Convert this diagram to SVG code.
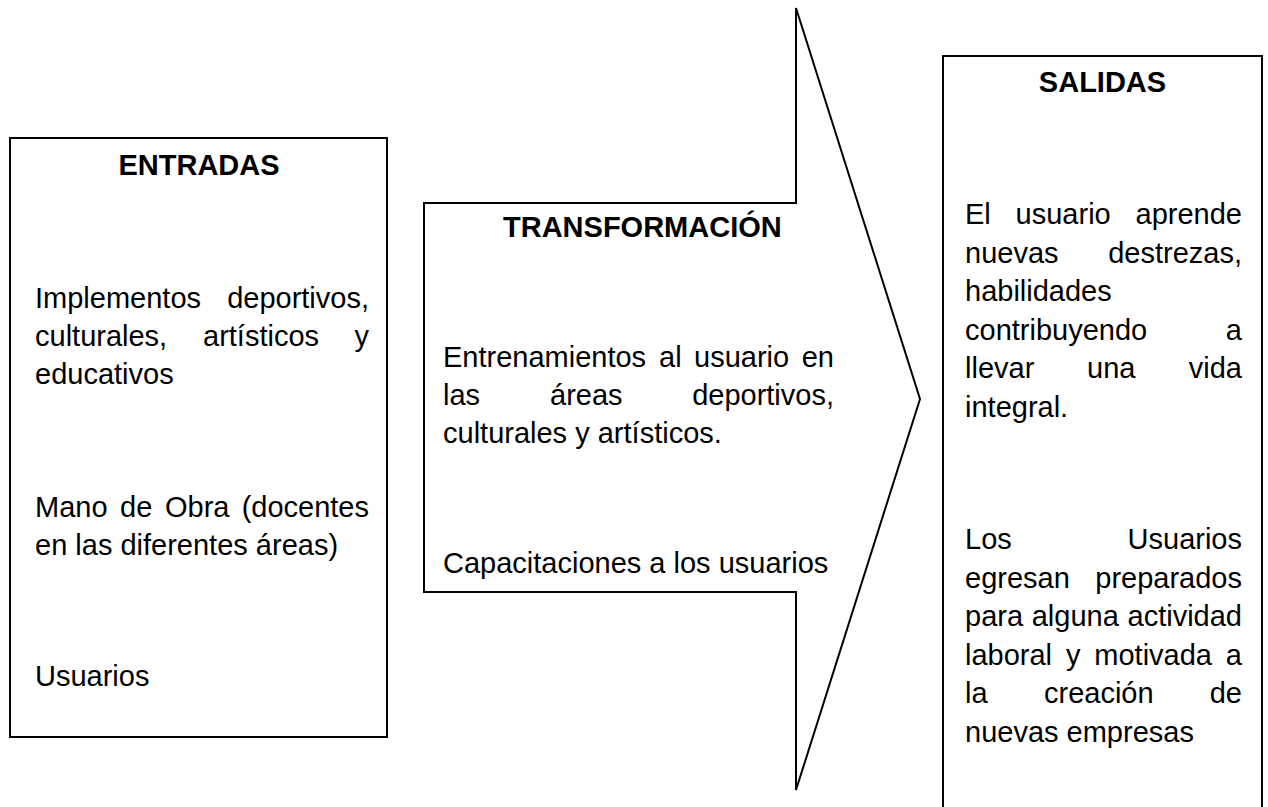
<svg xmlns="http://www.w3.org/2000/svg" width="1268" height="807" viewBox="0 0 1268 807">
<style>
.box{fill:#fff;stroke:#000;stroke-width:2}
text{font-family:"Liberation Sans",Arial,sans-serif;font-size:29px;fill:#000}
.t{font-weight:bold}
.e{text-anchor:end}
.m{text-anchor:middle}
</style>
<rect width="1268" height="807" fill="#fff"/>
<g id="connectors"></g>
<g id="entradas">
<rect class="box" x="10" y="138" width="377" height="599"/>
<text class="t m" x="199" y="175">ENTRADAS</text>
<text x="35" y="308">Implementos</text><text class="e" x="369" y="308">deportivos,</text>
<text x="35" y="346">culturales,</text><text x="203" y="346">artísticos</text><text class="e" x="369" y="346">y</text>
<text x="35" y="384">educativos</text>
<text x="35" y="517">Mano</text><text x="120" y="517">de</text><text x="165" y="517">Obra</text><text class="e" x="369" y="517">(docentes</text>
<text x="35" y="555">en las diferentes áreas)</text>
<text x="35" y="686">Usuarios</text>
</g>
<g id="transformacion">
<path class="box" d="M424,203 H796 V8 L920,399 L796,790 V592 H424 Z"/>
<text class="t" x="503" y="237">TRANSFORMACIÓN</text>
<text x="443" y="367">Entrenamientos</text><text x="659" y="367">al</text><text x="694" y="367">usuario</text><text class="e" x="834" y="367">en</text>
<text x="443" y="405">las</text><text x="550" y="405">áreas</text><text class="e" x="834" y="405">deportivos,</text>
<text x="443" y="443">culturales y artísticos.</text>
<text x="443" y="573">Capacitaciones a los usuarios</text>
</g>
<g id="salidas">
<rect class="box" x="943" y="56" width="319" height="770"/>
<text class="t m" x="1102.5" y="92">SALIDAS</text>
<text x="965" y="224">El</text><text x="1015.6" y="224">usuario</text><text class="e" x="1242" y="224">aprende</text>
<text x="965" y="262.5">nuevas</text><text class="e" x="1242" y="262.5">destrezas,</text>
<text x="965" y="301">habilidades</text>
<text x="965" y="339.5">contribuyendo</text><text class="e" x="1242" y="339.5">a</text>
<text x="965" y="378">llevar</text><text x="1087" y="378">una</text><text class="e" x="1242" y="378">vida</text>
<text x="965" y="416.5">integral.</text>
<text x="965" y="549">Los</text><text class="e" x="1242" y="549">Usuarios</text>
<text x="965" y="587.5">egresan</text><text class="e" x="1242" y="587.5">preparados</text>
<text x="965" y="626">para</text><text x="1031.7" y="626">alguna</text><text class="e" x="1242" y="626">actividad</text>
<text x="965" y="664.5">laboral</text><text x="1066" y="664.5">y</text><text x="1094.3" y="664.5">motivada</text><text class="e" x="1242" y="664.5">a</text>
<text x="965" y="703">la</text><text x="1044" y="703">creación</text><text class="e" x="1242" y="703">de</text>
<text x="965" y="741.5">nuevas empresas</text>
</g>
</svg>
